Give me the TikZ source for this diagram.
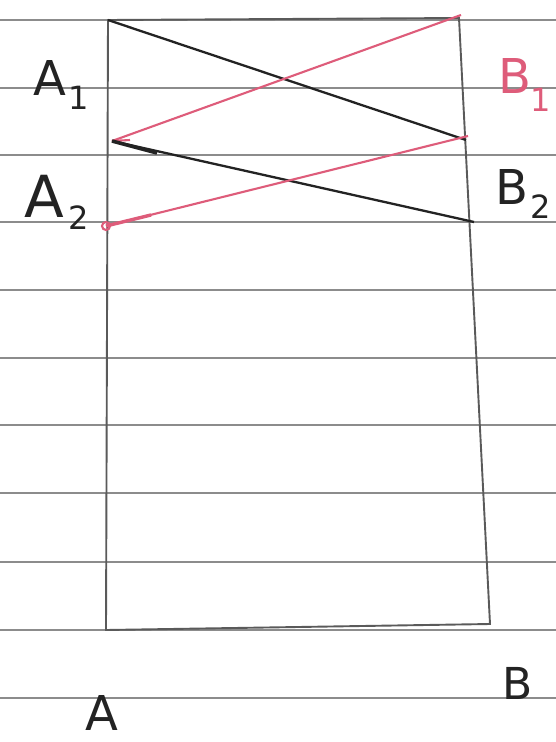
\documentclass[tikz,border=0pt]{standalone}
\usepackage{fontspec}
\setmainfont{DejaVu Sans}
\usetikzlibrary{arrows.meta}
\definecolor{rulegray}{RGB}{140,140,140}
\definecolor{pencil}{RGB}{90,90,90}
\definecolor{ink}{RGB}{35,35,35}
\definecolor{pinkred}{RGB}{222,92,122}
\begin{document}
\begin{tikzpicture}[x=1pt,y=-1pt,
  rule/.style={rulegray,line width=1.4pt},
  frame/.style={pencil,line width=1.9pt},
  blackln/.style={ink,line width=2.3pt},
  pinkln/.style={pinkred,line width=2.1pt},
  lbl/.style={font=\fontsize{48}{48}\selectfont, text=ink, inner sep=0pt},
  sub/.style={font=\fontsize{32}{32}\selectfont, text=ink, inner sep=0pt},
]
\fill[white] (0,0) rectangle (556,742);
\useasboundingbox (0,0) rectangle (556,742);
% ruled paper
\foreach \y in {20,88,155,222,290,358,425,493,562,630,698}
  \draw[rule] (0,\y) -- (556,\y);
% points
\coordinate (TL) at (108,20);
\coordinate (TR) at (459,18);
\coordinate (BR) at (490,624);
\coordinate (BL) at (106,630);
\coordinate (Pstart) at (461,15);
\coordinate (A1p) at (112,141);
\coordinate (B1p) at (466,140);
\coordinate (B1pk) at (468,136);
\coordinate (A2p) at (106,226);
\coordinate (B2p) at (474,222);
% frame
\draw[frame] (TL) -- (BL) -- (BR) -- (TR) -- cycle;
% zig-zag
\draw[blackln] (TL) -- (B1p);
\draw[blackln] (A1p) -- (B2p);
\draw[pinkln] (Pstart) -- (A1p);
\draw[pinkln] (B1pk) -- (A2p);
\draw[pinkln] (A1p) -- ++(18,-1);
\draw[pinkln,line width=3.4pt] (A2p) -- ++(45,-11);
\draw[blackln,line width=3.6pt] (A1p) -- ++(45,12);
\draw[pinkln] (A2p) circle (4);
% labels
\node[lbl] (A1) at (50,78) {A};
\node[sub] (A1s) at (79,98) {1};
\node[lbl,text=pinkred] (B1) at (515,76) {B};
\node[sub,text=pinkred] (B1s) at (541,100) {1};
\node[lbl,font=\fontsize{58}{58}\selectfont] (A2) at (44,196) {A};
\node[sub] (A2s) at (79,218) {2};
\node[lbl] (B2) at (512,187) {B};
\node[sub] (B2s) at (541,207) {2};
\node[lbl] (A) at (102,713) {A};
\node[lbl,font=\fontsize{44}{44}\selectfont] (B) at (518,683) {B};
\end{tikzpicture}
\end{document}
